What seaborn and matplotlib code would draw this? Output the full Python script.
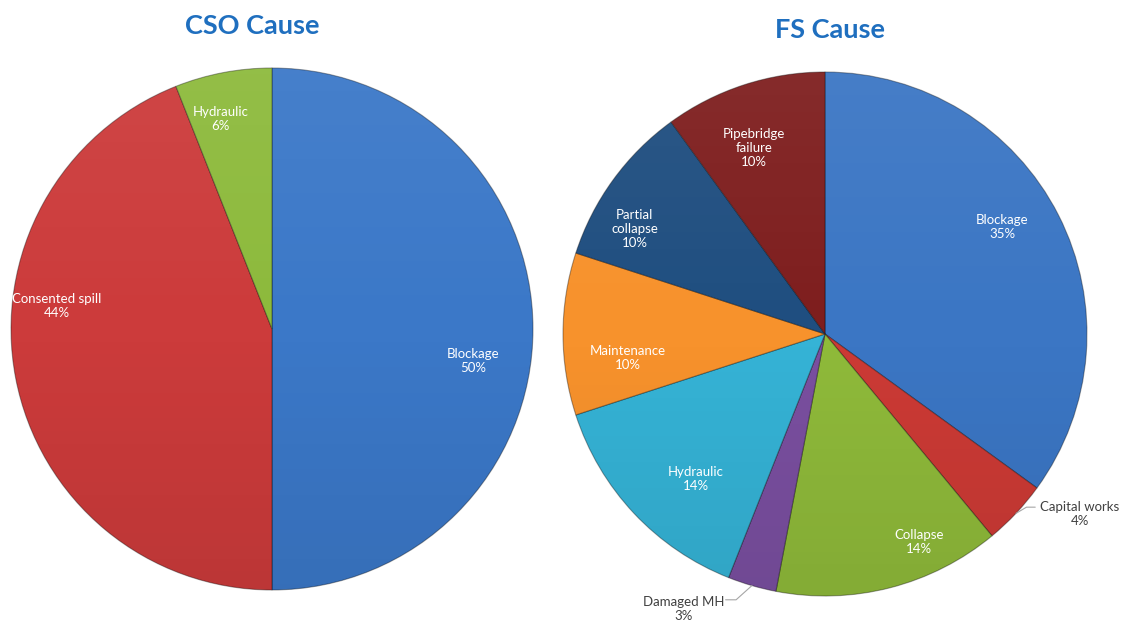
import numpy as np
import matplotlib
matplotlib.use("Agg")
import matplotlib.pyplot as plt
import seaborn as sns
from matplotlib.patches import Circle

sns.set_theme(style="white")
plt.rcParams["font.family"] = ["Lato", "DejaVu Sans"]

# CSO cause breakdown (percent)
cso_labels = ["Blockage", "Consented spill", "Hydraulic"]
cso_values = [50, 44, 6]
cso_colors = ["#3b78c8", "#cc3b3b", "#8dba3c"]

# FS cause breakdown (percent)
fs_labels = ["Blockage", "Capital works", "Collapse", "Damaged MH", "Hydraulic",
             "Maintenance", "Partial\ncollapse", "Pipebridge\nfailure"]
fs_values = [35, 4, 14, 3, 14, 10, 10, 10]
fs_colors = ["#3b76c4", "#cc3a35", "#8fba3a", "#7a4fa0", "#35b3d6",
             "#f7922c", "#1f4e80", "#7e1e1e"]

# label placement: (radius fraction, angle nudge in degrees, outside?)
cso_label_pos = [(0.78, -9, False), (0.83, -17, False), (0.83, 3, False)]
fs_label_pos = [(0.79, 4, False), (1.19, 8, True), (0.87, 10, False),
                (1.18, -11, True), (0.74, 5, False), (0.76, 7, False),
                (0.83, 7, False), (0.76, 3, False)]

W, H = 1122, 620
fig = plt.figure(figsize=(W / 100, H / 100), dpi=100)
fig.patch.set_facecolor("white")


def pie_axes(cx, cy, r):
    return fig.add_axes([(cx - r) / W, (H - cy - r) / H, 2 * r / W, 2 * r / H])


def shade(ax):
    # soft top-light / bottom-dark overlay clipped to the disc
    y = np.linspace(1, -1, 300)[:, None] * np.ones((1, 300))
    rgba = np.zeros((300, 300, 4))
    light = np.clip(y, 0, 1)
    dark = np.clip(-y, 0, 1)
    rgba[..., :3] = np.where(y[..., None] > 0, 1.0, 0.0)
    rgba[..., 3] = 0.06 * light + 0.08 * dark
    im = ax.imshow(rgba, extent=[-1, 1, -1, 1], zorder=3, interpolation="bilinear")
    im.set_clip_path(Circle((0, 0), 1.0, transform=ax.transData))


def draw_pie(ax, labels, values, colors, placements, title, title_dx):
    wedges, _ = ax.pie(values, colors=colors, startangle=90, counterclock=False,
                       radius=1.0,
                       wedgeprops=dict(edgecolor=(0, 0, 0, 0.35), linewidth=0.8))
    for w in wedges:
        w.set_zorder(2)
    shade(ax)
    ax.set_xlim(-1, 1)
    ax.set_ylim(-1, 1)
    ax.set_aspect("equal")
    ax.axis("off")
    total = float(sum(values))
    start = 90.0
    for lab, val, (r, nudge, outside) in zip(labels, values, placements):
        span = 360.0 * val / total
        mid = start - span / 2
        start -= span
        ang = np.deg2rad(mid + nudge)
        tx, ty = r * np.cos(ang), r * np.sin(ang)
        txt = f"{lab}\n{val}%"
        if outside:
            m = np.deg2rad(mid)
            ex, ey = np.cos(m), np.sin(m)
            if tx > 0:
                kx = tx - 0.17
                ax.plot([ex, ex + 0.04, kx], [ey, ty + 0.025, ty + 0.025],
                        color="#a6a6a6", lw=0.8, zorder=4, clip_on=False)
            else:
                kx = tx + 0.16
                ax.plot([ex, kx + 0.04, kx], [ey, ty + 0.035, ty + 0.035],
                        color="#a6a6a6", lw=0.8, zorder=4, clip_on=False)
            ax.text(tx, ty, txt, ha="center", va="center", fontsize=9.5,
                    color="#404040", linespacing=1.2, zorder=5, clip_on=False)
        else:
            ax.text(tx, ty, txt, ha="center", va="center", fontsize=9.5,
                    color="white", linespacing=1.2, zorder=5)
    ax.text(title_dx, 1.16, title, ha="center", va="center", fontsize=19.5,
            fontweight="bold", color="#1f6fbf", transform=ax.transData,
            clip_on=False)


ax1 = pie_axes(272, 329, 261)
draw_pie(ax1, cso_labels, cso_values, cso_colors, cso_label_pos, "CSO Cause", -0.077)

ax2 = pie_axes(825, 334, 262)
draw_pie(ax2, fs_labels, fs_values, fs_colors, fs_label_pos, "FS Cause", 0.02)

fig.savefig("out.png", dpi=100, facecolor="white")
